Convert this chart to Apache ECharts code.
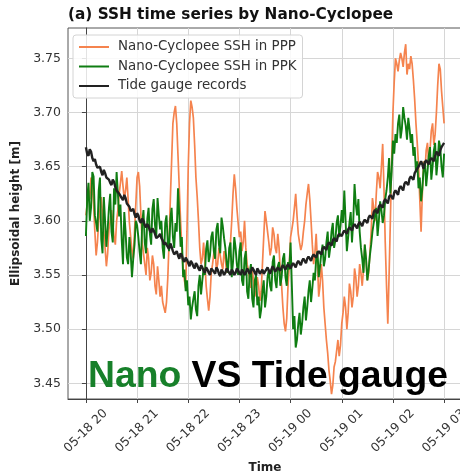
<!DOCTYPE html>
<html>
<head>
<meta charset="utf-8">
<script src="https://cdn.jsdelivr.net/npm/echarts@6/dist/echarts.min.js"></script>
<style>
html,body{margin:0;padding:0;background:#fff;}
#chart{width:460px;height:471px;}
</style>
</head>
<body>
<div id="chart"></div>
<script>
// ---- data ----
const sampleStepMinutes = 1.5; // samples every 1.5 minutes starting 05-18 20:00
const xTickMinutes = [0, 60, 120, 180, 240, 300, 360, 420];
const xTickLabels = ['05-18 20', '05-18 21', '05-18 22', '05-18 23', '05-19 00', '05-19 01', '05-19 02', '05-19 03'];
const yTicks = [3.45, 3.50, 3.55, 3.60, 3.65, 3.70, 3.75];
const seriesNames = ['Nano-Cyclopee SSH in PPP', 'Nano-Cyclopee SSH in PPK', 'Tide gauge records'];

const pppSSH = [
3.605,3.615,3.628,3.620,3.640,3.632,3.615,3.590,3.568,3.580,
3.600,3.610,3.622,3.605,3.590,3.575,3.558,3.570,3.592,3.600,
3.610,3.598,3.585,3.578,3.600,3.610,3.625,3.635,3.646,3.632,
3.620,3.628,3.640,3.620,3.598,3.585,3.572,3.565,3.590,3.615,
3.640,3.645,3.632,3.605,3.580,3.570,3.560,3.550,3.575,3.565,
3.545,3.552,3.568,3.560,3.540,3.532,3.558,3.545,3.530,3.540,
3.525,3.520,3.515,3.525,3.547,3.580,3.620,3.655,3.690,3.700,
3.706,3.690,3.660,3.630,3.600,3.575,3.555,3.545,3.538,3.590,
3.650,3.690,3.711,3.705,3.695,3.670,3.640,3.622,3.600,3.575,
3.560,3.565,3.580,3.562,3.540,3.528,3.517,3.530,3.552,3.560,
3.570,3.575,3.555,3.560,3.575,3.568,3.560,3.555,3.572,3.565,
3.552,3.558,3.568,3.580,3.600,3.625,3.643,3.630,3.612,3.598,
3.585,3.590,3.572,3.580,3.600,3.575,3.560,3.555,3.545,3.538,
3.556,3.545,3.530,3.535,3.548,3.540,3.526,3.535,3.560,3.585,
3.609,3.600,3.590,3.580,3.568,3.575,3.594,3.588,3.575,3.570,
3.588,3.575,3.552,3.540,3.520,3.505,3.498,3.510,3.540,3.560,
3.585,3.592,3.600,3.612,3.625,3.605,3.588,3.580,3.573,3.578,
3.590,3.600,3.615,3.625,3.634,3.620,3.600,3.578,3.560,3.570,
3.588,3.562,3.530,3.540,3.560,3.545,3.520,3.505,3.490,3.478,
3.462,3.452,3.440,3.448,3.465,3.470,3.480,3.490,3.475,3.485,
3.505,3.515,3.530,3.520,3.500,3.515,3.542,3.535,3.520,3.530,
3.556,3.548,3.530,3.540,3.560,3.552,3.540,3.555,3.578,3.565,
3.545,3.552,3.570,3.590,3.621,3.612,3.600,3.625,3.645,3.640,
3.630,3.650,3.671,3.630,3.580,3.540,3.505,3.550,3.600,3.655,
3.700,3.728,3.750,3.745,3.738,3.748,3.755,3.750,3.742,3.755,
3.763,3.735,3.745,3.740,3.752,3.745,3.730,3.712,3.690,3.672,
3.652,3.620,3.590,3.625,3.655,3.645,3.665,3.672,3.652,3.665,
3.683,3.690,3.670,3.680,3.700,3.725,3.745,3.740,3.720,3.705,
3.690];

const ppkSSH = [
3.586,3.620,3.635,3.600,3.612,3.645,3.641,3.605,3.598,3.590,
3.628,3.640,3.583,3.570,3.622,3.600,3.576,3.592,3.612,3.625,
3.590,3.580,3.630,3.615,3.645,3.625,3.604,3.615,3.582,3.560,
3.608,3.590,3.566,3.560,3.585,3.570,3.548,3.565,3.578,3.600,
3.596,3.585,3.571,3.560,3.598,3.610,3.580,3.570,3.602,3.612,
3.588,3.578,3.611,3.620,3.596,3.585,3.621,3.605,3.592,3.600,
3.575,3.565,3.598,3.605,3.580,3.572,3.602,3.612,3.585,3.575,
3.598,3.590,3.630,3.605,3.576,3.585,3.548,3.555,3.535,3.545,
3.522,3.530,3.509,3.520,3.528,3.535,3.518,3.512,3.540,3.550,
3.532,3.545,3.556,3.550,3.574,3.582,3.562,3.568,3.585,3.590,
3.572,3.565,3.592,3.598,3.578,3.570,3.603,3.595,3.584,3.575,
3.562,3.552,3.575,3.580,3.548,3.562,3.585,3.575,3.560,3.550,
3.572,3.580,3.545,3.540,3.565,3.572,3.535,3.528,3.552,3.560,
3.528,3.520,3.545,3.550,3.522,3.530,3.510,3.518,3.535,3.545,
3.520,3.530,3.548,3.555,3.540,3.535,3.562,3.568,3.545,3.538,
3.558,3.562,3.540,3.548,3.565,3.570,3.548,3.540,3.562,3.555,
3.580,3.540,3.500,3.512,3.483,3.490,3.505,3.515,3.495,3.505,
3.520,3.530,3.508,3.520,3.535,3.545,3.525,3.538,3.552,3.545,
3.565,3.572,3.548,3.558,3.570,3.578,3.558,3.565,3.580,3.590,
3.566,3.575,3.590,3.598,3.575,3.582,3.598,3.605,3.585,3.595,
3.610,3.598,3.628,3.600,3.572,3.585,3.598,3.608,3.580,3.600,
3.634,3.615,3.605,3.620,3.590,3.575,3.565,3.552,3.578,3.565,
3.545,3.555,3.568,3.578,3.590,3.598,3.605,3.612,3.586,3.600,
3.618,3.610,3.598,3.605,3.620,3.628,3.640,3.658,3.625,3.645,
3.674,3.662,3.680,3.672,3.690,3.698,3.676,3.685,3.705,3.695,
3.688,3.675,3.695,3.685,3.672,3.680,3.660,3.668,3.645,3.655,
3.630,3.640,3.618,3.630,3.648,3.655,3.632,3.645,3.660,3.668,
3.638,3.650,3.665,3.672,3.642,3.655,3.674,3.668,3.650,3.640,
3.662];

const tideGauge = [
3.668,3.662,3.660,3.666,3.664,3.658,3.655,3.657,3.652,3.649,
3.648,3.650,3.645,3.642,3.647,3.644,3.640,3.641,3.638,3.635,
3.633,3.638,3.636,3.631,3.628,3.629,3.625,3.626,3.621,3.619,
3.624,3.621,3.616,3.617,3.613,3.609,3.610,3.611,3.606,3.603,
3.607,3.605,3.600,3.598,3.602,3.600,3.596,3.594,3.597,3.595,
3.591,3.589,3.593,3.591,3.588,3.584,3.585,3.586,3.588,3.584,
3.582,3.578,3.580,3.579,3.576,3.574,3.579,3.576,3.572,3.569,
3.570,3.572,3.568,3.565,3.570,3.568,3.564,3.562,3.566,3.564,
3.561,3.558,3.563,3.561,3.558,3.556,3.561,3.559,3.556,3.554,
3.559,3.557,3.554,3.552,3.557,3.555,3.552,3.550,3.556,3.555,
3.553,3.551,3.557,3.555,3.551,3.549,3.555,3.553,3.550,3.552,
3.556,3.554,3.552,3.550,3.555,3.553,3.550,3.552,3.556,3.554,
3.552,3.550,3.555,3.553,3.550,3.552,3.556,3.554,3.551,3.553,
3.557,3.555,3.552,3.550,3.556,3.554,3.551,3.553,3.555,3.551,
3.553,3.555,3.557,3.554,3.551,3.555,3.558,3.556,3.553,3.555,
3.557,3.556,3.554,3.557,3.559,3.557,3.555,3.558,3.560,3.558,
3.556,3.559,3.561,3.559,3.557,3.561,3.563,3.561,3.559,3.563,
3.565,3.563,3.561,3.565,3.567,3.565,3.563,3.567,3.569,3.568,
3.566,3.570,3.572,3.571,3.569,3.574,3.576,3.575,3.573,3.578,
3.580,3.579,3.577,3.582,3.584,3.583,3.581,3.586,3.588,3.588,
3.586,3.589,3.591,3.590,3.588,3.592,3.594,3.593,3.591,3.595,
3.597,3.595,3.593,3.597,3.599,3.597,3.595,3.599,3.601,3.600,
3.598,3.603,3.605,3.604,3.602,3.608,3.610,3.609,3.607,3.613,
3.615,3.614,3.612,3.618,3.620,3.618,3.616,3.622,3.624,3.622,
3.620,3.626,3.628,3.626,3.624,3.630,3.632,3.630,3.628,3.634,
3.636,3.635,3.633,3.639,3.641,3.640,3.638,3.644,3.646,3.647,
3.650,3.651,3.655,3.652,3.648,3.654,3.656,3.654,3.652,3.656,
3.658,3.657,3.655,3.660,3.664,3.662,3.660,3.665,3.668,3.670,
3.672];

// ---- build ----
function pairs(arr) {
  return arr.map((v, i) => [i * sampleStepMinutes, v]);
}
const colors = ['#f5834e', '#0f7d12', '#222222'];
const FONT = 'DejaVu Sans';

const chart = echarts.init(document.getElementById('chart'), null, {renderer: 'canvas'});
chart.setOption({
  animation: false,
  backgroundColor: '#ffffff',
  title: {
    text: '(a) SSH time series by Nano-Cyclopee',
    left: 68, top: 8, padding: 0,
    textStyle: {fontFamily: FONT, fontSize: 15.3, fontWeight: 'bold', color: '#111'}
  },
  legend: {
    orient: 'vertical',
    left: 73, top: 35,
    data: seriesNames,
    icon: 'rect',
    itemWidth: 30, itemHeight: 2,
    itemGap: 3.5,
    padding: [4, 6, 4, 6],
    backgroundColor: 'rgba(255,255,255,0.85)',
    borderColor: '#d4d4d4', borderWidth: 1, borderRadius: 3,
    textStyle: {fontFamily: FONT, fontSize: 13.4, color: '#333', lineHeight: 16, padding: [0, 0, 0, 4]}
  },
  grid: {left: 68, top: 28, right: -2, bottom: 72, containLabel: false, outerBoundsMode: 'none',
         show: true, borderColor: '#555', borderWidth: 1},
  xAxis: {
    type: 'value',
    min: -21, max: 441,
    name: 'Time', nameLocation: 'middle', nameGap: 60,
    nameTextStyle: {fontFamily: FONT, fontSize: 12, fontWeight: 'bold', color: '#222'},
    axisLine: {show: true, lineStyle: {color: '#444'}},
    axisTick: {show: true, length: 4, lineStyle: {color: '#444'}, customValues: xTickMinutes},
    axisLabel: {
      customValues: xTickMinutes, rotate: 45, margin: 32, align: 'center', verticalAlign: 'middle',
      fontFamily: FONT, fontSize: 12.3, color: '#333',
      formatter: v => xTickLabels[xTickMinutes.indexOf(v)] || ''
    },
    splitLine: {show: true, lineStyle: {color: '#d6d6d6', width: 1}}
  },
  yAxis: {
    type: 'value',
    min: 3.4355, max: 3.778,
    name: 'Ellipsoidal height [m]', nameLocation: 'middle', nameGap: 40,
    nameTextStyle: {fontFamily: FONT, fontSize: 12, fontWeight: 'bold', color: '#222'},
    axisLine: {show: true, lineStyle: {color: '#444'}},
    axisTick: {show: true, length: 4, lineStyle: {color: '#444'}, customValues: yTicks},
    axisLabel: {
      customValues: yTicks, margin: 7,
      fontFamily: FONT, fontSize: 12.5, color: '#333',
      formatter: v => v.toFixed(2)
    },
    splitLine: {show: true, lineStyle: {color: '#d6d6d6', width: 1}}
  },
  series: [
    {name: seriesNames[0], type: 'line', data: pairs(pppSSH), showSymbol: false, color: colors[0],
     lineStyle: {width: 1.7, color: colors[0]}, z: 2},
    {name: seriesNames[1], type: 'line', data: pairs(ppkSSH), showSymbol: false, color: colors[1],
     lineStyle: {width: 1.9, color: colors[1]}, z: 3},
    {name: seriesNames[2], type: 'line', data: pairs(tideGauge), showSymbol: false, color: colors[2],
     lineStyle: {width: 2.4, color: colors[2]}, z: 4}
  ],
  graphic: [{
    type: 'text', left: 88, top: 358, z: 100,
    style: {
      text: '{g|Nano} {k|VS Tide gauge}',
      rich: {
        g: {fontFamily: 'Liberation Sans', fontSize: 37.3, fontWeight: 'bold', fill: '#17802a'},
        k: {fontFamily: 'Liberation Sans', fontSize: 37.3, fontWeight: 'bold', fill: '#000'}
      },
      fontFamily: 'Liberation Sans', fontSize: 37.3, fontWeight: 'bold'
    }
  }]
});
</script>
</body>
</html>
